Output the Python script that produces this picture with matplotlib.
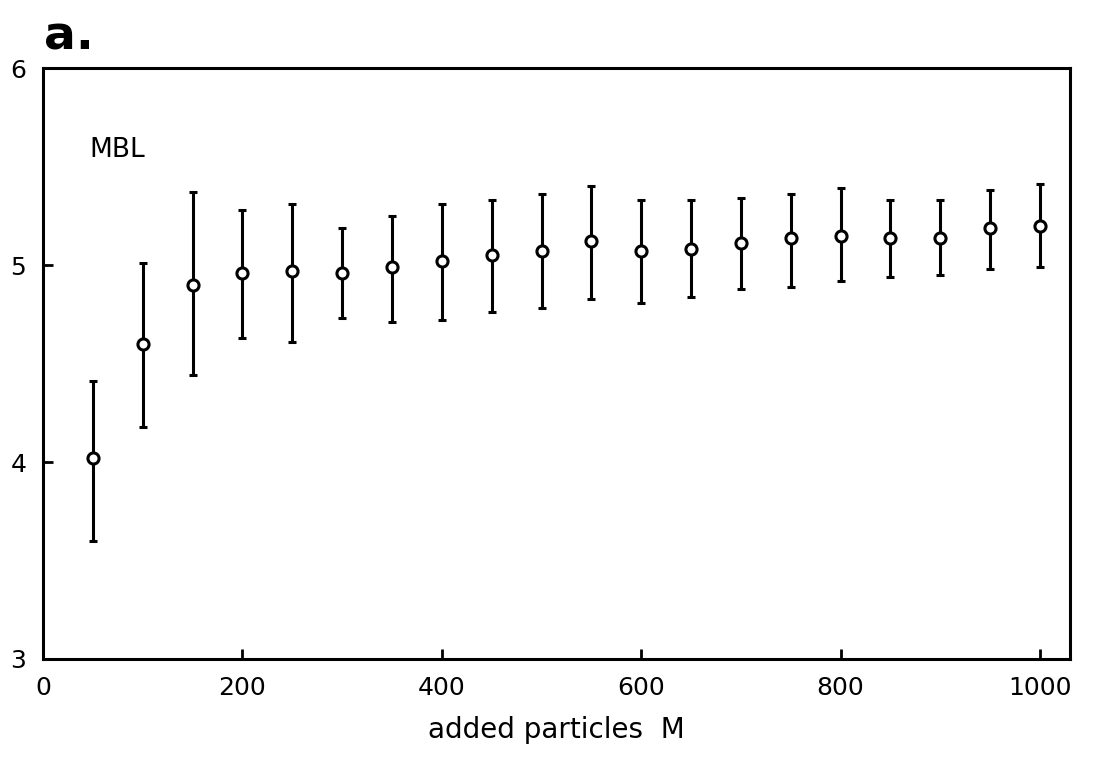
import numpy as np
import matplotlib.pyplot as plt

# MBL: mean value vs number of added particles, with error bars
M = np.arange(50, 1001, 50)
media = np.array([4.02, 4.60, 4.90, 4.96, 4.97, 4.96, 4.99, 5.02, 5.05, 5.07,
                  5.12, 5.07, 5.08, 5.11, 5.14, 5.15, 5.14, 5.14, 5.19, 5.20])
topo = np.array([4.41, 5.01, 5.37, 5.28, 5.31, 5.19, 5.25, 5.31, 5.33, 5.36,
                 5.40, 5.33, 5.33, 5.34, 5.36, 5.39, 5.33, 5.33, 5.38, 5.41])
base = np.array([3.60, 4.18, 4.44, 4.63, 4.61, 4.73, 4.71, 4.72, 4.76, 4.78,
                 4.83, 4.81, 4.84, 4.88, 4.89, 4.92, 4.94, 4.95, 4.98, 4.99])

xticks = [0, 200, 400, 600, 800, 1000]
yticks = [3, 4, 5, 6]

plt.rcParams['font.family'] = ['DejaVu Sans']

fig = plt.figure(figsize=(10.94, 7.66), dpi=100)
ax = fig.add_axes([0.0393, 0.1397, 0.9387, 0.7713])

erro = [media - base, topo - media]
ax.errorbar(M, media, yerr=erro, fmt='o', color='black', ecolor='black',
            elinewidth=2.2, capsize=3, capthick=2.2,
            markersize=8, markerfacecolor='white', markeredgewidth=2.2)

ax.set_xlim(0, 1030)
ax.set_ylim(3, 6)
ax.set_xticks(xticks)
ax.set_yticks(yticks)
ax.tick_params(direction='in', length=7, width=2, labelsize=18,
               top=False, right=False)
ax.tick_params(axis='x', pad=12)
ax.tick_params(axis='y', pad=12)
for s in ax.spines.values():
    s.set_linewidth(2.2)

ax.set_xlabel('added particles  M', fontsize=20, labelpad=12)
ax.text(0.045, 0.85, 'MBL', transform=ax.transAxes, fontsize=19)
fig.text(0.04, 0.935, 'a.', fontsize=34, fontweight='bold')

fig.savefig('out.png', dpi=100)
